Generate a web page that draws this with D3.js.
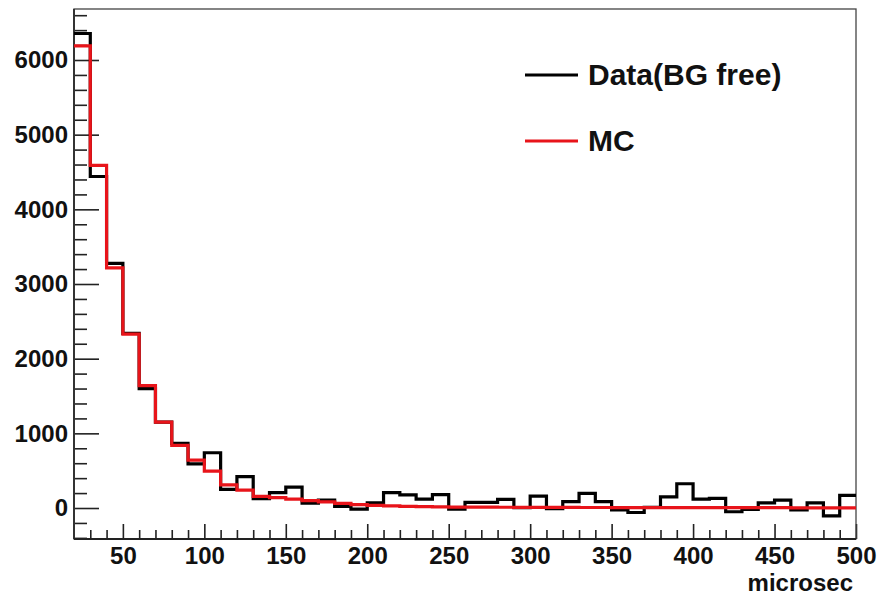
<!DOCTYPE html>
<html>
<head>
<meta charset="utf-8">
<script src="https://cdn.jsdelivr.net/npm/d3@7"></script>
<style>
  html, body { margin: 0; padding: 0; background: #fff; }
  svg text { font-family: "Liberation Sans", Arial, sans-serif; font-weight: bold; fill: #111; }
</style>
</head>
<body>
<svg id="chart" width="879" height="595"></svg>
<script>
// bin lower edges, 10 microsec wide
var binLow = d3.range(20, 500, 10);
var binWidth = 10;

// background-free data
var dataCounts = [6355, 4440, 3275, 2340, 1600, 1150, 865, 590, 740, 250,
                  420, 125, 205, 280, 65, 105, 20, -15, 70, 205,
                  175, 120, 180, -15, 75, 75, 115, 5, 160, -10,
                  85, 195, 85, -25, -60, 10, 150, 325, 120, 130,
                  -50, -20, 70, 105, -25, 70, -105, 170];

// monte carlo
var mcCounts = [6190, 4590, 3215, 2330, 1640, 1150, 840, 640, 495, 310,
                240, 155, 140, 120, 100, 82, 62, 45, 35, 28,
                22, 18, 15, 13, 12, 11, 10, 9, 9, 8,
                8, 7, 7, 6, 6, 6, 5, 5, 5, 5,
                4, 4, 4, 4, 3, 3, 3, 3];

var xMajor = [50, 100, 150, 200, 250, 300, 350, 400, 450, 500];
var yMajor = [0, 1000, 2000, 3000, 4000, 5000, 6000];
var legendNames = ["Data(BG free)", "MC"];
var legendColors = ["#000", "#e8141a"];

var svg = d3.select("#chart");

var x = d3.scaleLinear().domain([20, 500]).range([74, 856]);
var y = d3.scaleLinear().domain([-415, 6683]).range([539, 9]);

// minor ticks
var xMinor = d3.range(30, 500, 10).filter(function (d) { return d % 50 != 0; });
var yMinor = d3.range(-400, 6700, 200).filter(function (d) { return d % 1000 != 0; });

svg.append("g")
    .attr("transform", "translate(0,539)")
    .call(d3.axisBottom(x).tickValues(xMinor).tickSize(-9).tickFormat(""))
    .call(function (g) { g.select(".domain").remove(); });

svg.append("g")
    .attr("transform", "translate(0,539)")
    .call(d3.axisBottom(x).tickValues(xMajor).tickSize(-15).tickPadding(8).tickFormat(d3.format("d")))
    .call(function (g) {
        g.select(".domain").remove();
        g.selectAll("text").attr("font-size", 24).attr("font-family", null).attr("fill", "#111");
    });

svg.append("g")
    .attr("transform", "translate(74,0)")
    .call(d3.axisLeft(y).tickValues(yMinor).tickSize(-13).tickFormat(""))
    .call(function (g) { g.select(".domain").remove(); });

svg.append("g")
    .attr("transform", "translate(74,0)")
    .call(d3.axisLeft(y).tickValues(yMajor).tickSize(-25).tickPadding(6).tickFormat(d3.format("d")))
    .call(function (g) {
        g.select(".domain").remove();
        g.selectAll("text").attr("font-size", 24).attr("font-family", null).attr("fill", "#111");
    });

svg.selectAll(".tick line").attr("stroke", "#222").attr("stroke-width", 1.6);

// frame
svg.append("rect")
    .attr("x", 74).attr("y", 9)
    .attr("width", 856 - 74).attr("height", 539 - 9)
    .attr("fill", "none").attr("stroke", "#444").attr("stroke-width", 1.3);
svg.append("line").attr("x1", 74).attr("x2", 74).attr("y1", 9).attr("y2", 539)
    .attr("stroke", "#333").attr("stroke-width", 2);
svg.append("line").attr("x1", 74).attr("x2", 856).attr("y1", 539).attr("y2", 539)
    .attr("stroke", "#222").attr("stroke-width", 2.2);

// step histograms
function stepPoints(vals) {
    var pts = [];
    binLow.forEach(function (lo, i) {
        pts.push([lo, vals[i]]);
        pts.push([lo + binWidth, vals[i]]);
    });
    return pts;
}

var line = d3.line()
    .x(function (d) { return x(d[0]); })
    .y(function (d) { return y(d[1]); });

svg.append("path")
    .attr("d", line(stepPoints(dataCounts)))
    .attr("fill", "none").attr("stroke", "#000")
    .attr("stroke-width", 3.2).attr("stroke-linejoin", "miter");

svg.append("path")
    .attr("d", line(stepPoints(mcCounts)))
    .attr("fill", "none").attr("stroke", legendColors[1])
    .attr("stroke-width", 3.2).attr("stroke-linejoin", "miter");

// legend
var leg = svg.append("g").selectAll("g")
    .data(legendNames)
    .enter().append("g")
    .attr("transform", function (d, i) { return "translate(525," + (75 + i * 66) + ")"; });

leg.append("line")
    .attr("x1", 0).attr("x2", 53)
    .attr("stroke", function (d, i) { return legendColors[i]; })
    .attr("stroke-width", 3);

leg.append("text")
    .attr("x", 63).attr("y", 10)
    .attr("font-size", 30)
    .text(function (d) { return d; });

// axis title
svg.append("text")
    .attr("x", 853).attr("y", 591)
    .attr("text-anchor", "end")
    .attr("font-size", 24)
    .text("microsec");
</script>
</body>
</html>
